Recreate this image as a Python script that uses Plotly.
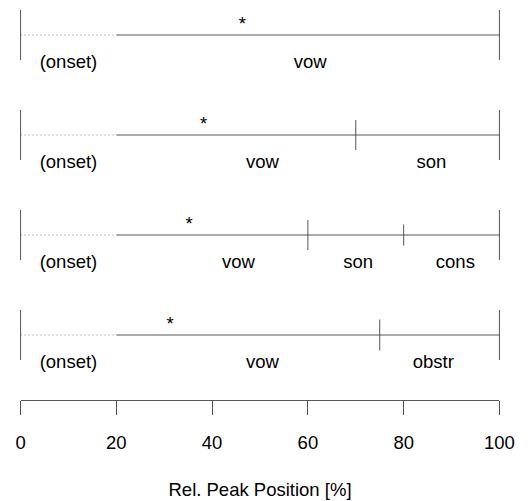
import plotly.graph_objects as go

# ---- data ----
row_y = [4, 3, 2, 1]
onset_end = 20
row_bounds = [[], [70], [60, 80], [75]]
row_bound_half = [[], [0.15], [0.15, 0.105], [0.155]]
row_labels = [
    ["(onset)", "vow"],
    ["(onset)", "vow", "son"],
    ["(onset)", "vow", "son", "cons"],
    ["(onset)", "vow", "obstr"],
]
row_label_x = [
    [10, 60.5],
    [10, 50.5, 85.8],
    [10, 45.5, 70.5, 90.8],
    [10, 50.5, 86.2],
]
peak_x = [46.3, 38.2, 35.2, 31.2]
x_ticks = [0, 20, 40, 60, 80, 100]

LINE = "#555555"
FONT = "Liberation Sans, Arial, Helvetica, sans-serif"
FS = 18.5

fig = go.Figure()

for i, y in enumerate(row_y):
    # dotted onset part
    fig.add_trace(go.Scatter(x=[0, onset_end], y=[y, y], mode="lines",
                             line=dict(color="#808080", width=1, dash="1px,3px"),
                             hoverinfo="skip", showlegend=False))
    # solid part
    fig.add_trace(go.Scatter(x=[onset_end, 100], y=[y, y], mode="lines",
                             line=dict(color=LINE, width=1),
                             hoverinfo="skip", showlegend=False))
    # boundary ticks
    xs, ys = [], []
    for xb in [0, 100]:
        xs += [xb, xb, None]
        ys += [y - 0.25, y + 0.25, None]
    for xb, h in zip(row_bounds[i], row_bound_half[i]):
        xs += [xb, xb, None]
        ys += [y - h, y + h, None]
    fig.add_trace(go.Scatter(x=xs, y=ys, mode="lines",
                             line=dict(color=LINE, width=1),
                             hoverinfo="skip", showlegend=False))
    # labels
    fig.add_trace(go.Scatter(x=row_label_x[i], y=[y - 0.28] * len(row_labels[i]),
                             mode="text", text=row_labels[i],
                             textfont=dict(family=FONT, size=FS, color="black"),
                             textposition="middle center",
                             hoverinfo="skip", showlegend=False))
    # peak star
    fig.add_trace(go.Scatter(x=[peak_x[i]], y=[y + 0.1], mode="text", text=["*"],
                             textfont=dict(family=FONT, size=FS, color="black"),
                             textposition="middle center",
                             hoverinfo="skip", showlegend=False))

# invisible trace for the displayed axis
fig.add_trace(go.Scatter(x=[0, 100], y=[None, None], xaxis="x2", yaxis="y",
                         mode="lines", hoverinfo="skip", showlegend=False))

fig.update_layout(
    width=528, height=501,
    margin=dict(l=11, r=19, t=0, b=101),
    plot_bgcolor="rgba(0,0,0,0)", paper_bgcolor="white",
    xaxis=dict(range=[-2, 102], visible=False, domain=[0, 1]),
    xaxis2=dict(range=[0, 100], domain=[2 / 104, 102 / 104], anchor="y",
                showline=True, linecolor=LINE, linewidth=1,
                ticks="outside", ticklen=14, tickcolor=LINE, tickwidth=1,
                tickvals=x_ticks, ticktext=[str(v) for v in x_ticks],
                tickfont=dict(family=FONT, size=FS, color="black"),
                ticklabelstandoff=12, automargin=False,
                showgrid=False, zeroline=False,
                title=dict(text="Rel. Peak Position [%]",
                           font=dict(family=FONT, size=FS, color="black"),
                           standoff=30)),
    yaxis=dict(range=[0.35, 4.35], visible=False),
)

fig.write_html("out.html", config={"displayModeBar": False},
               post_script="document.body.style.margin='0';")
